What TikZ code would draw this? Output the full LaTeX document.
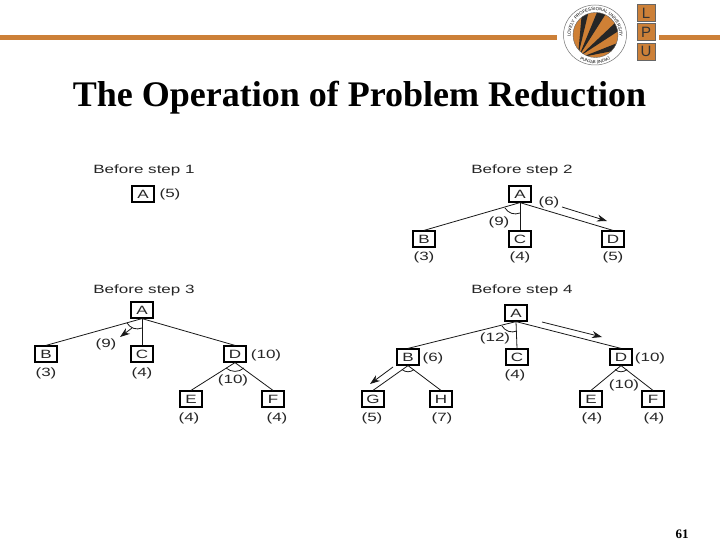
\documentclass[tikz,border=0pt]{standalone}
\usepackage{fontspec}
\usepackage{graphicx}
\setmainfont{Liberation Sans}
\newfontfamily\serifb[BoldFont={Liberation Serif Bold}]{Liberation Serif}
\usetikzlibrary{decorations.text,arrows.meta}
\definecolor{lpu}{HTML}{CC8038}
\newcommand{\wt}[1]{\scalebox{1.42}[1]{#1}}
\tikzset{
  x=1pt,y=-1pt,
  box/.style={draw=black,line width=1.2pt,minimum width=22pt,minimum height=16pt,inner sep=0pt,font=\fontsize{12}{13}\selectfont,text=black!85},
  lab/.style={inner sep=0pt,yshift=-1pt,font=\fontsize{12}{13}\selectfont,text=black!85},
  ttl/.style={inner sep=0pt,yshift=-1.5pt,font=\fontsize{12}{13}\selectfont,text=black!85},
  edge/.style={draw=black!90,line width=.8pt},
  flow/.style={draw=black!90,line width=.8pt,-{Stealth[length=10pt,width=7pt]}},
  band/.style={draw=none,fill=lpu},
  lbox/.style={draw=black!60,line width=.4pt,fill=lpu,minimum width=18pt,minimum height=17pt,inner sep=0pt,font=\fontsize{15}{16}\selectfont,text=black!80},
}
\begin{document}
\begin{tikzpicture}
\useasboundingbox (0,0) rectangle (720,540);
\fill[white] (0,0) rectangle (720,540);
% header
\fill[band] (0,35.5) rectangle (557,40);
\fill[band] (659,35.5) rectangle (720,40);
\draw[black!55,line width=.5pt,fill=white] (595,35) ellipse [x radius=31.5,y radius=30];
\begin{scope}
\clip (595.5,35) circle (22.5);
\fill[lpu!95!orange] (570,10) rectangle (620,60);
\fill[black!85] (578,56) -- (582,11) -- (589,10) -- cycle;
\fill[black!85] (579,56) -- (598,10) -- (607,12) -- cycle;
\fill[black!85] (580,56) -- (616,22) -- (620,30) -- cycle;
\fill[black!85] (582,57) -- (620,42) -- (618,50) -- cycle;
\end{scope}
\draw[black!60,line width=.4pt] (595.5,35) circle (22.5);
\begin{scope}[y=1pt]
\path[postaction={decorate},decoration={text along path,text align=center,text={|\fontsize{4.4}{5}\selectfont|LOVELY PROFESSIONAL UNIVERSITY}}]
  (595,-35) ++(205:24.3) arc[start angle=205,end angle=-25,radius=24.3];
\path[postaction={decorate},decoration={text along path,text align=center,text={|\fontsize{4.2}{5}\selectfont|PUNJAB (INDIA)}}]
  (595,-35) ++(235:28.5) arc[start angle=235,end angle=305,radius=28.5];
\end{scope}
\node[lbox] (lL) at (646,13) {L};
\node[lbox] (lP) at (646,32) {P};
\node[lbox] (lU) at (646,51.5) {U};
\node[inner sep=0pt,font=\serifb\bfseries\fontsize{36}{38}\selectfont] (title) at (359.5,98) {The Operation of Problem Reduction};
\node[inner sep=0pt,font=\serifb\bfseries\fontsize{13}{14}\selectfont] (page) at (682,534) {61};
% step 1
\node[ttl] (t1) at (144,169) {\wt{Before step 1}};
\node[box] (a1) at (143,194) {\wt{A}};
\node[lab] (a1v) at (170,193.5) {\wt{(5)}};
% step 2
\node[ttl] (t2) at (522,169) {\wt{Before step 2}};
\node[box] (a2) at (520,194) {\wt{A}};
\node[box] (b2) at (424,239) {\wt{B}};
\node[box] (c2) at (520,239) {\wt{C}};
\node[box] (d2) at (613,239) {\wt{D}};
\draw[edge] (a2.south) -- (b2.north);
\draw[edge] (a2.south) -- (c2.north);
\draw[edge] (a2.south) -- (d2.north);
\coordinate (a2l) at (505,208); \coordinate (a2r) at (520,213);
\draw[edge] (a2l) to[bend right=40] (a2r);
\coordinate (f2s) at (562,207); \coordinate (f2e) at (607,221);
\draw[flow] (f2s) -- (f2e);
\node[lab] (l6) at (549,201) {\wt{(6)}};
\node[lab] (l9) at (499,221) {\wt{(9)}};
\node[lab] (l3) at (424,256.5) {\wt{(3)}};
\node[lab] (l4) at (520,256.5) {\wt{(4)}};
\node[lab] (l5) at (613,256.5) {\wt{(5)}};
% step 3
\node[ttl] (t3) at (144,289) {\wt{Before step 3}};
\node[box] (a3) at (142,310) {\wt{A}};
\node[box] (b3) at (46,354) {\wt{B}};
\node[box] (c3) at (142,354) {\wt{C}};
\node[box] (d3) at (235,354) {\wt{D}};
\node[box] (e3) at (191,399) {\wt{E}};
\node[box] (f3) at (273,399) {\wt{F}};
\draw[edge] (a3.south) -- (b3.north);
\draw[edge] (a3.south) -- (c3.north);
\draw[edge] (a3.south) -- (d3.north);
\draw[edge] (d3.south) -- (e3.north);
\draw[edge] (d3.south) -- (f3.north);
\coordinate (a3l) at (127,323); \coordinate (a3r) at (142,328);
\draw[edge] (a3l) to[bend right=40] (a3r);
\coordinate (d3l) at (226,368); \coordinate (d3r) at (244,368);
\draw[edge] (d3l) to[bend right=40] (d3r);
\coordinate (f3s) at (132,328); \coordinate (f3e) at (120,337);
\draw[flow] (f3s) -- (f3e);
\node[lab] (m9) at (106,343) {\wt{(9)}};
\node[lab] (m10) at (266,354) {\wt{(10)}};
\node[lab] (m10b) at (233,379.5) {\wt{(10)}};
\node[lab] (m3) at (46,372) {\wt{(3)}};
\node[lab] (m4) at (142,372) {\wt{(4)}};
\node[lab] (m4e) at (189,417) {\wt{(4)}};
\node[lab] (m4f) at (277,417) {\wt{(4)}};
% step 4
\node[ttl] (t4) at (522,289) {\wt{Before step 4}};
\node[box] (a4) at (516,313) {\wt{A}};
\node[box] (b4) at (408,357) {\wt{B}};
\node[box] (c4) at (517,357) {\wt{C}};
\node[box] (d4) at (621,357) {\wt{D}};
\node[box] (g4) at (373,399) {\wt{G}};
\node[box] (h4) at (441,399) {\wt{H}};
\node[box] (e4) at (591,399) {\wt{E}};
\node[box] (f4) at (653,399) {\wt{F}};
\draw[edge] (a4.south) -- (b4.north);
\draw[edge] (a4.south) -- (c4.north);
\draw[edge] (a4.south) -- (d4.north);
\draw[edge] (b4.south) -- (g4.north);
\draw[edge] (b4.south) -- (h4.north);
\draw[edge] (d4.south) -- (e4.north);
\draw[edge] (d4.south) -- (f4.north);
\coordinate (a4l) at (502,326); \coordinate (a4r) at (517,331);
\draw[edge] (a4l) to[bend right=40] (a4r);
\coordinate (b4l) at (402,369.5); \coordinate (b4r) at (414,369.5);
\draw[edge] (b4l) to[bend right=40] (b4r);
\coordinate (d4l) at (615,369.5); \coordinate (d4r) at (627,369.5);
\draw[edge] (d4l) to[bend right=40] (d4r);
\coordinate (f4s) at (542,322); \coordinate (f4e) at (602,337);
\draw[flow] (f4s) -- (f4e);
\coordinate (g4s) at (393,367); \coordinate (g4e) at (370,384);
\draw[flow] (g4s) -- (g4e);
\node[lab] (n12) at (495,337) {\wt{(12)}};
\node[lab] (n6) at (433,357) {\wt{(6)}};
\node[lab] (n10) at (650,357) {\wt{(10)}};
\node[lab] (n4) at (515,374.5) {\wt{(4)}};
\node[lab] (n10b) at (624,384) {\wt{(10)}};
\node[lab] (n5) at (372,417) {\wt{(5)}};
\node[lab] (n7) at (442,417) {\wt{(7)}};
\node[lab] (n4e) at (592,417) {\wt{(4)}};
\node[lab] (n4f) at (654,417) {\wt{(4)}};
\end{tikzpicture}
\end{document}
